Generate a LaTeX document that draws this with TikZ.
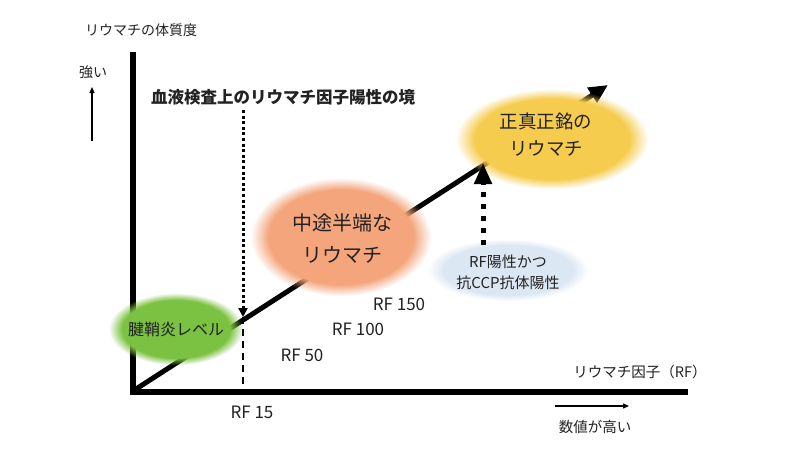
\documentclass[tikz,border=0pt]{standalone}
\usepackage{fontspec}
\setmainfont{Noto Sans CJK JP}
\usetikzlibrary{arrows.meta,fadings}
\definecolor{greenE}{HTML}{7CC242}
\definecolor{orangeE}{HTML}{F4A57C}
\definecolor{yellowE}{HTML}{F6CC4E}
\definecolor{blueE}{HTML}{DCE7F4}
\definecolor{txt}{HTML}{222222}
\tikzset{
  lbl/.style={text=txt, inner sep=0pt, font=\fontsize{14pt}{16pt}\selectfont},
  rflbl/.style={text=txt, inner sep=0pt, font=\fontsize{17pt}{18pt}\selectfont},
  titlelbl/.style={text=txt, inner sep=0pt, font=\fontsize{16.5pt}{18pt}\selectfont\bfseries},
  bubbletext/.style={text=txt, inner sep=0pt, align=center},
  axisline/.style={line width=6pt, black},
  fuzzy/.style={path fading=circle with fuzzy edge 20 percent},
}
\begin{document}
\begin{tikzpicture}[x=1pt,y=-1pt]
\useasboundingbox[fill=white] (0,0) rectangle (800,450);

% coordinates
\coordinate (ytop) at (133,52);
\coordinate (orig) at (133,392);
\coordinate (xend) at (688,392);
\coordinate (lstart) at (136,389);
\coordinate (ltip) at (608,85);
\coordinate (bT) at (243,110);
\coordinate (bM) at (243,317);
\coordinate (bB) at (243,390);
\coordinate (dS) at (483,245);
\coordinate (dT) at (483,163);
\coordinate (uS) at (92,141);
\coordinate (uT) at (92,87);
\coordinate (rS) at (555,406);
\coordinate (rT) at (629,406);
\coordinate (gC) at (176,329);
\coordinate (oC) at (341,237);
\coordinate (yC) at (552,139);
\coordinate (bC) at (508,270);

% axes
\draw[axisline] (ytop) -- (orig) -- (xend);

% main trend line
\draw[line width=5pt, -{Triangle[length=19pt,width=17pt]}] (lstart) -- (ltip);

% boundary line
\draw[line width=3pt, dash pattern=on 3pt off 2.6pt, -{Triangle[length=9pt,width=9pt]}] (bT) -- (bM);
\draw[line width=2pt, dash pattern=on 7pt off 5pt] (bM) -- (bB);

% bubbles
\fill[greenE, fuzzy] (gC) ellipse [x radius=67pt, y radius=36pt];
\fill[orangeE, fuzzy] (oC) ellipse [x radius=90pt, y radius=59pt];
\fill[yellowE, fuzzy] (yC) ellipse [x radius=96pt, y radius=50pt];
\fill[blueE, fuzzy] (bC) ellipse [x radius=80pt, y radius=31pt];

% dotted arrow
\draw[line width=5pt, dash pattern=on 5pt off 7pt, -{Triangle[length=21pt,width=17pt]}] (dS) -- (dT);

% small arrows
\draw[line width=1.3pt, -{Triangle[length=6pt,width=5pt]}] (uS) -- (uT);
\draw[line width=1.3pt, -{Triangle[length=6pt,width=5pt]}] (rS) -- (rT);

% texts
\node[lbl, anchor=west] (ylabel) at (85,30) {リウマチの体質度};
\node[lbl] (strong) at (93,72) {強い};
\node[titlelbl] (title) at (283,97) {血液検査上のリウマチ因子陽性の境};
\node[bubbletext, font=\fontsize{16pt}{18pt}\selectfont] (green) at (gC) {腱鞘炎レベル};
\node[bubbletext, font=\fontsize{20pt}{32pt}\selectfont] (orange) at (342,239) {中途半端な\\リウマチ};
\node[bubbletext, font=\fontsize{18.5pt}{27pt}\selectfont] (yellow) at (546,135) {正真正銘の\\リウマチ};
\node[bubbletext, font=\fontsize{15pt}{21pt}\selectfont] (blue) at (508,272) {RF陽性かつ\\抗CCP抗体陽性};
\node[rflbl] (rf150) at (399,304) {RF 150};
\node[rflbl] (rf100) at (358,329) {RF 100};
\node[rflbl] (rf50) at (302,355) {RF 50};
\node[rflbl] (rf15) at (252,412) {RF 15};
\node[lbl, font=\fontsize{14.5pt}{16pt}\selectfont] (xlabel) at (640,372) {リウマチ因子（RF）};
\node[lbl, font=\fontsize{14.5pt}{16pt}\selectfont] (high) at (595,427) {数値が高い};
\end{tikzpicture}
\end{document}
